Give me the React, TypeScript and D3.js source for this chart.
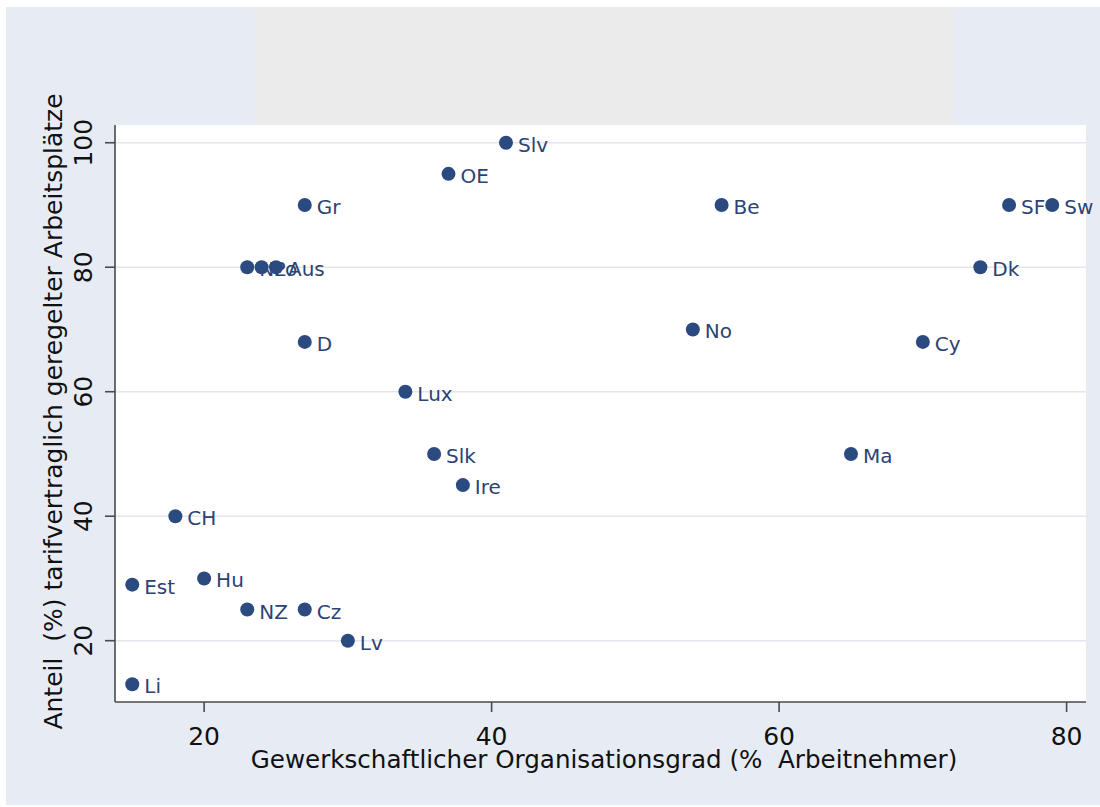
import { useEffect, useRef } from "react"
import * as d3 from "d3"

// country labels, union density (x) and collective bargaining coverage (y)
const countries = ["Li", "Est", "CH", "Hu", "NZ", "Cz", "Lv", "Gr", "NL", "Po", "Aus", "D", "Lux", "Slk", "Ire", "OE", "Slv", "No", "Be", "Ma", "Cy", "Dk", "SF", "Sw"]
const density = [15, 15, 18, 20, 23, 27, 30, 27, 23, 24, 25, 27, 34, 36, 38, 37, 41, 54, 56, 65, 70, 74, 76, 79]
const coverage = [13, 29, 40, 30, 25, 25, 20, 90, 80, 80, 80, 68, 60, 50, 45, 95, 100, 70, 90, 50, 68, 80, 90, 90]

const xTicks = [20, 40, 60, 80]
const yTicks = [20, 40, 60, 80, 100]

const xTitle = "Gewerkschaftlicher Organisationsgrad (%  Arbeitnehmer)"
const yTitle = "Anteil  (%) tarifvertraglich geregelter Arbeitsplätze"

export default function App() {
    const ref = useRef<SVGSVGElement>(null)

    useEffect(() => {
        const plot = { left: 115, right: 1086, top: 125, bottom: 702 }
        const font = "'DejaVu Sans', sans-serif"
        const markColor = "#2a4a80"
        const labelColor = "#2c4373"
        const axisColor = "#4a4a4a"

        const x = d3.scaleLinear().domain([13.8, 81.35]).range([plot.left, plot.right])
        const y = d3.scaleLinear().domain([10.15, 102.85]).range([plot.bottom, plot.top])

        const svg = d3.select(ref.current)
        svg.selectAll("*").remove()
        svg.attr("width", 1100).attr("height", 807).style("display", "block")

        // backgrounds
        svg.append("rect").attr("x", 6).attr("y", 7).attr("width", 1094).attr("height", 798).attr("fill", "#e7ebf4")
        svg.append("rect").attr("x", 255).attr("y", 7).attr("width", 698).attr("height", plot.top - 7).attr("fill", "#ebebeb")
        svg.append("rect")
            .attr("x", plot.left).attr("y", plot.top)
            .attr("width", plot.right - plot.left).attr("height", plot.bottom - plot.top)
            .attr("fill", "#ffffff")

        // horizontal grid
        svg.append("g")
            .selectAll("line")
            .data(yTicks)
            .join("line")
                .attr("x1", plot.left).attr("x2", plot.right)
                .attr("y1", d => y(d)).attr("y2", d => y(d))
                .attr("stroke", "#e3e6ee")
                .attr("stroke-width", 1.5)

        // y axis
        const yAxis = svg.append("g").attr("stroke", axisColor).attr("stroke-width", 1.6)
        yAxis.append("line").attr("x1", plot.left).attr("x2", plot.left).attr("y1", plot.top).attr("y2", plot.bottom)
        yAxis.selectAll("line.tick")
            .data(yTicks)
            .join("line")
                .attr("class", "tick")
                .attr("x1", plot.left - 10).attr("x2", plot.left)
                .attr("y1", d => y(d)).attr("y2", d => y(d))
        svg.append("g")
            .selectAll("text")
            .data(yTicks)
            .join("text")
                .attr("transform", d => `translate(92, ${y(d)}) rotate(-90)`)
                .attr("text-anchor", "middle")
                .attr("font-family", font)
                .attr("font-size", 25)
                .attr("fill", "#111")
                .text(d => d)

        // x axis
        const xAxis = svg.append("g").attr("stroke", axisColor).attr("stroke-width", 1.6)
        xAxis.append("line").attr("x1", plot.left).attr("x2", plot.right).attr("y1", plot.bottom).attr("y2", plot.bottom)
        xAxis.selectAll("line.tick")
            .data(xTicks)
            .join("line")
                .attr("class", "tick")
                .attr("x1", d => x(d)).attr("x2", d => x(d))
                .attr("y1", plot.bottom).attr("y2", plot.bottom + 10)
        svg.append("g")
            .selectAll("text")
            .data(xTicks)
            .join("text")
                .attr("x", d => x(d))
                .attr("y", 745)
                .attr("text-anchor", "middle")
                .attr("font-family", font)
                .attr("font-size", 25)
                .attr("fill", "#111")
                .text(d => d)

        // axis titles (double spaces kept as in the original)
        svg.append("text")
            .attr("x", 604).attr("y", 768)
            .attr("text-anchor", "middle")
            .attr("font-family", font)
            .attr("font-size", 24.6)
            .attr("fill", "#111")
            .style("white-space", "pre")
            .text(xTitle)
        svg.append("text")
            .attr("transform", `translate(62, ${(plot.top + plot.bottom) / 2 - 2}) rotate(-90)`)
            .attr("text-anchor", "middle")
            .attr("font-family", font)
            .attr("font-size", 25)
            .attr("fill", "#111")
            .style("white-space", "pre")
            .text(yTitle)

        // markers and labels, drawn point by point so later dots cover earlier labels
        const points = svg.append("g")
        countries.forEach((c, i) => {
            const cx = x(density[i])
            const cy = y(coverage[i])
            points.append("circle")
                .attr("cx", cx).attr("cy", cy).attr("r", 7)
                .attr("fill", markColor)
            points.append("text")
                .attr("x", cx + 12).attr("y", cy + 9)
                .attr("font-family", font)
                .attr("font-size", 20)
                .attr("fill", labelColor)
                .text(c)
        })
    })

    return (
        <svg ref={ref} style={{ position: "absolute", left: 0, top: 0 }}></svg>
    )
}
